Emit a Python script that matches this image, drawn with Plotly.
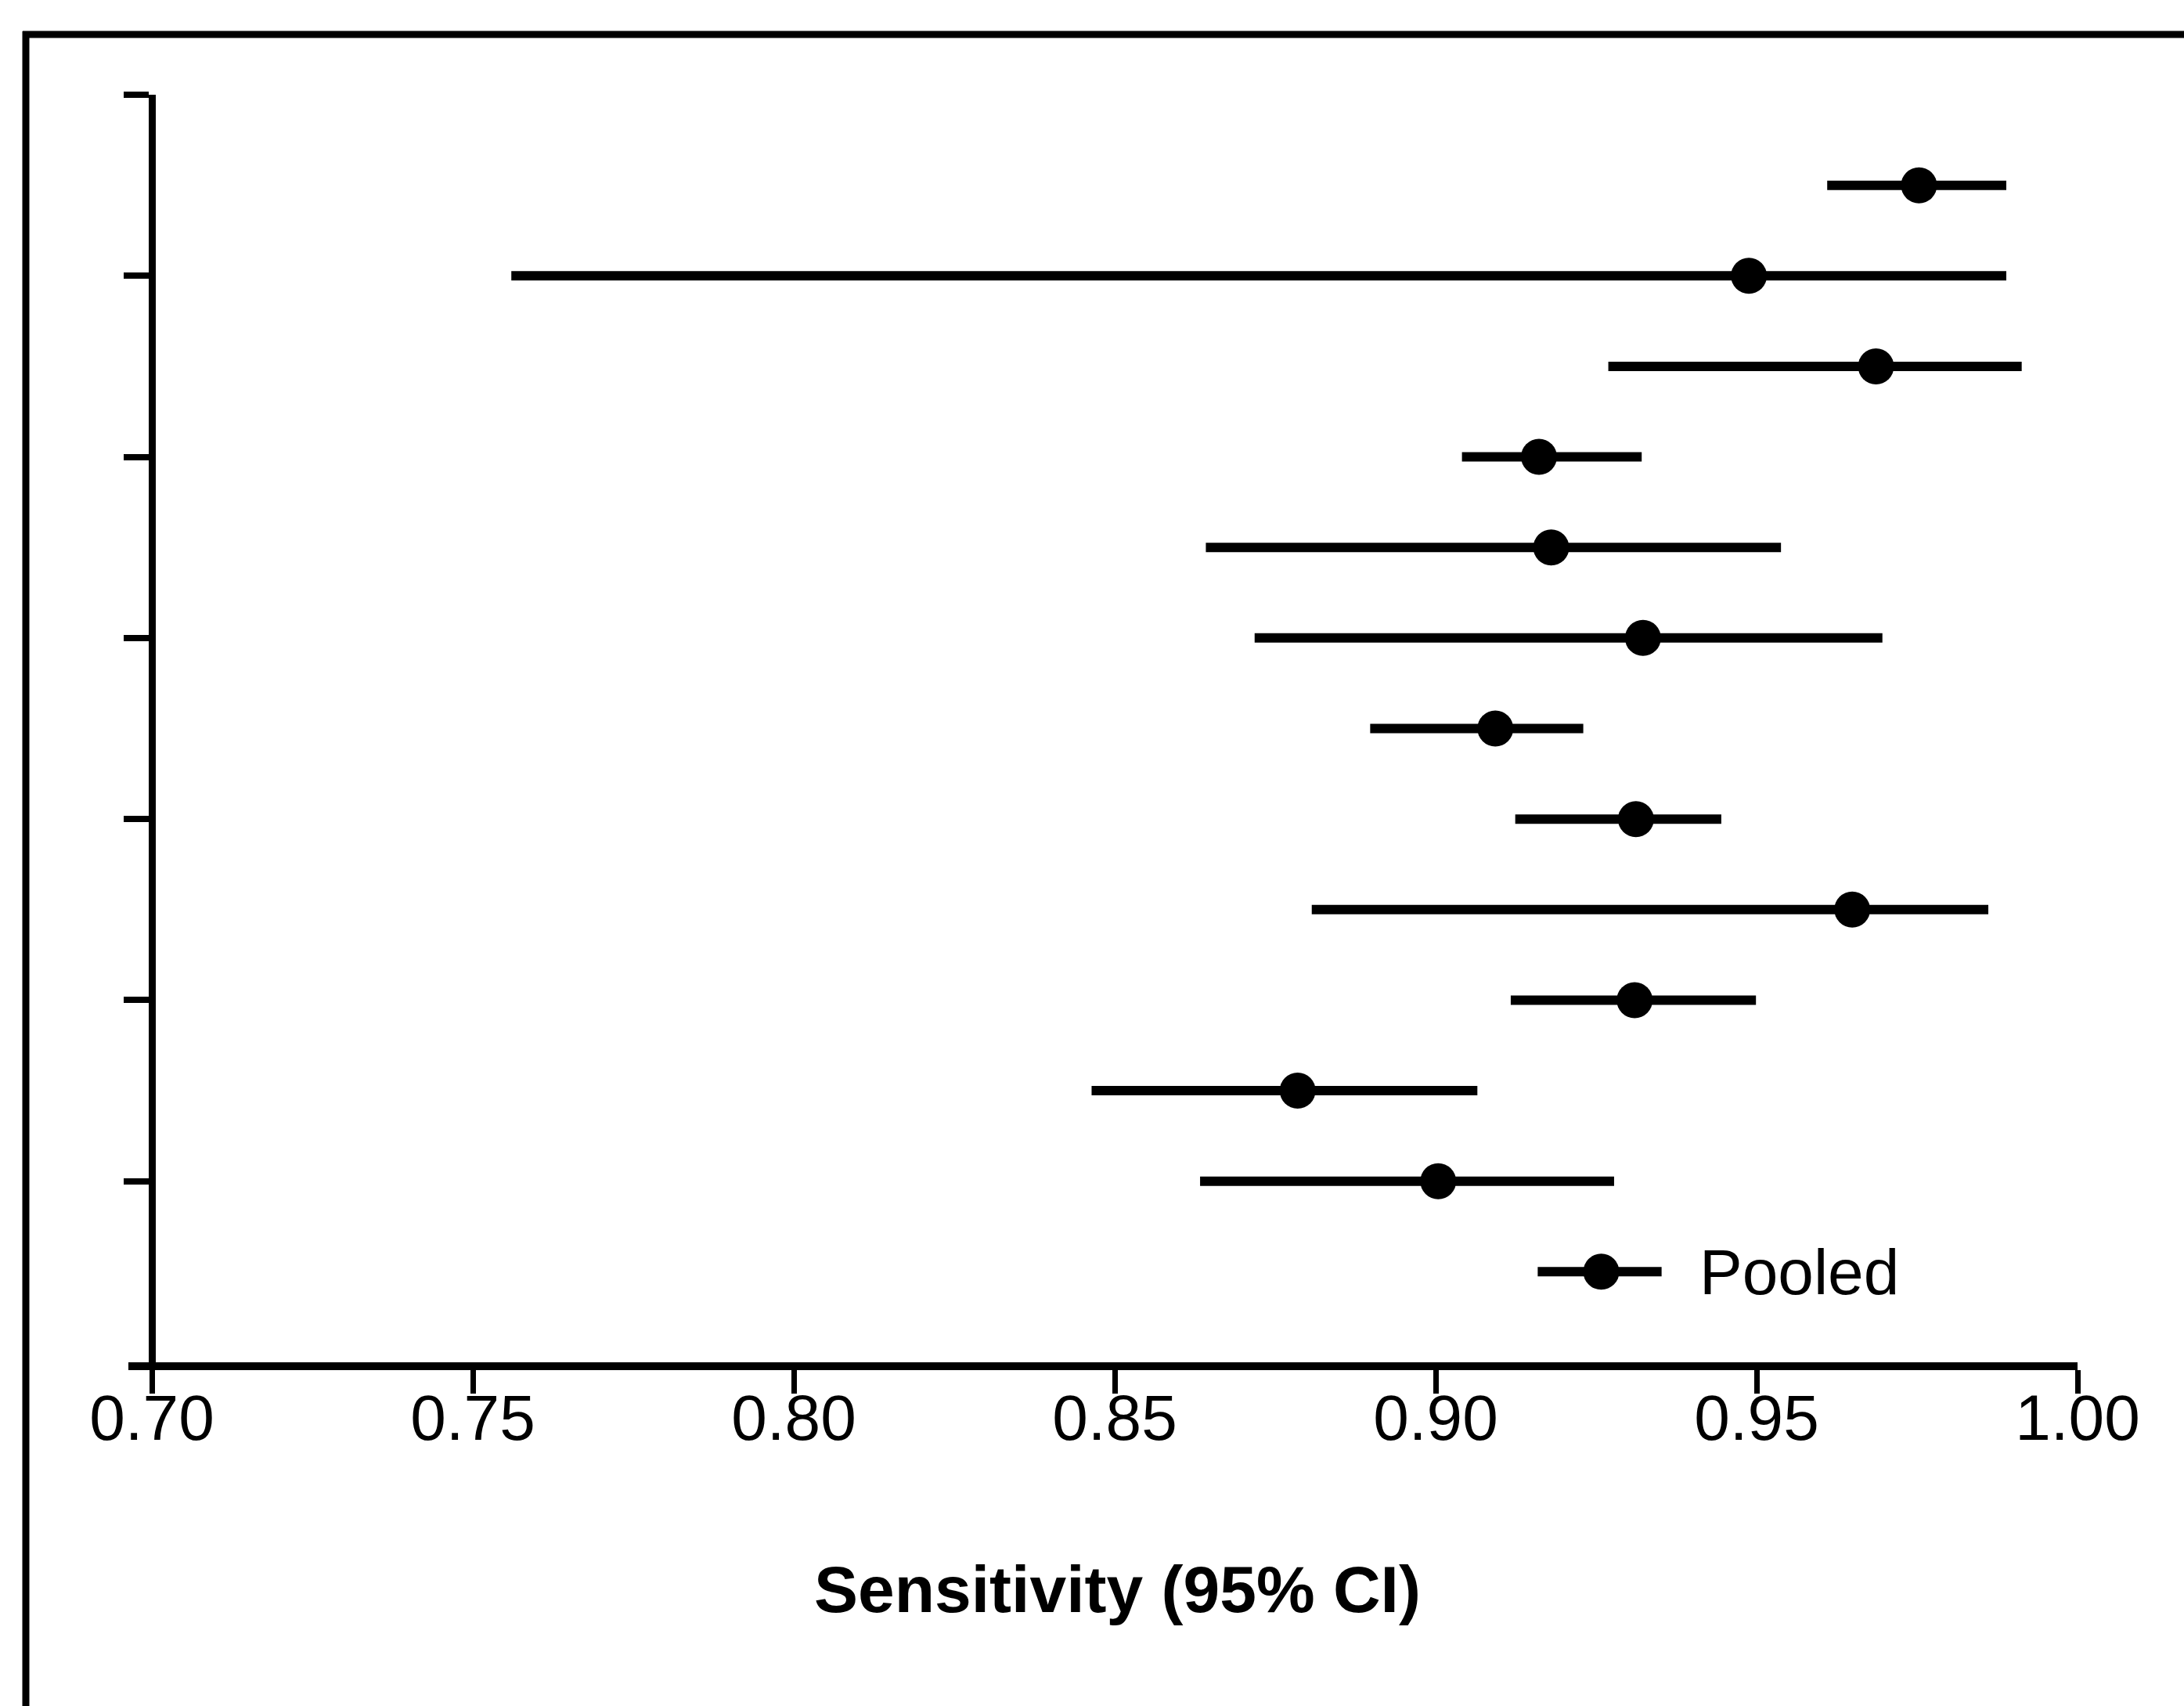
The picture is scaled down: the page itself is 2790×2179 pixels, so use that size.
import plotly.graph_objects as go

# Per-study sensitivity estimates with 95% confidence limits (top row first)
sens_point = [0.9753, 0.9488, 0.9686, 0.9161, 0.9180, 0.9323,
              0.9093, 0.9312, 0.9649, 0.9310, 0.8785, 0.9004]
ci_low = [0.9610, 0.7560, 0.9269, 0.9041, 0.8642, 0.8718,
          0.8898, 0.9124, 0.8807, 0.9117, 0.8464, 0.8633]
ci_high = [0.9889, 0.9889, 0.9913, 0.9321, 0.9538, 0.9696,
           0.9230, 0.9445, 0.9861, 0.9499, 0.9065, 0.9278]

# Pooled estimate
pooled_point = 0.9258
pooled_low = 0.9159
pooled_high = 0.9352
pooled_label = "Pooled"

x_ticks = [0.70, 0.75, 0.80, 0.85, 0.90, 0.95, 1.00]
x_tick_text = ["0.70", "0.75", "0.80", "0.85", "0.90", "0.95", "1.00"]
y_ticks = [2, 4, 6, 8, 10, 12, 14]
x_title = "Sensitivity (95% CI)"

W, H = 2790, 2179
FONT = "Liberation Sans, Arial, sans-serif"

n = len(sens_point)
rows = [n + 1 - i for i in range(n)]  # studies stacked from the top, pooled row at 1

all_x = sens_point + [pooled_point]
all_y = rows + [1]
err_plus = [h - p for h, p in zip(ci_high + [pooled_high], all_x)]
err_minus = [p - l for p, l in zip(all_x, ci_low + [pooled_low])]

fig = go.Figure()
fig.add_trace(go.Scatter(
    x=all_x, y=all_y, mode="markers",
    marker=dict(color="black", size=46, line=dict(width=0)),
    error_x=dict(type="data", symmetric=False, array=err_plus,
                 arrayminus=err_minus, width=0, thickness=12, color="black"),
    showlegend=False, hoverinfo="x",
))

# pixel geometry of the plotting frame
x_left_px, x_zero_px, x_right_px = 164, 194, 2654
y_top_px, y_bottom_px = 121, 1740
x_min = 0.70 - (x_zero_px - x_left_px) / ((x_right_px - x_zero_px) / 0.30)

fig.update_layout(
    width=W, height=H,
    margin=dict(l=0, r=0, t=0, b=0, pad=0, autoexpand=False),
    paper_bgcolor="white", plot_bgcolor="white",
    font=dict(family=FONT, color="black"),
    xaxis=dict(
        range=[x_min, 1.0],
        domain=[x_left_px / W, x_right_px / W],
        tickvals=x_ticks, ticktext=x_tick_text,
        ticks="outside", ticklen=30, tickwidth=7, tickcolor="black",
        showline=True, linecolor="black", linewidth=10,
        showgrid=False, zeroline=False, automargin=False,
        tickfont=dict(size=82, family=FONT, color="black"),
        ticklabelstandoff=-39,
        anchor="y",
    ),
    yaxis=dict(
        range=[0, 14],
        domain=[(H - y_bottom_px) / H, (H - y_top_px) / H],
        tickvals=y_ticks, showticklabels=False,
        ticks="outside", ticklen=32, tickwidth=8, tickcolor="black",
        showline=True, linecolor="black", linewidth=9,
        showgrid=False, zeroline=False, automargin=False,
        anchor="free", position=x_zero_px / W,
    ),
)

fig.add_annotation(
    x=0.9409, y=1, xref="x", yref="y", text=pooled_label,
    showarrow=False, xanchor="left", yanchor="middle",
    font=dict(size=82, family=FONT, color="black"),
)
fig.add_annotation(
    x=1427 / W, y=(H - 2030) / H, xref="paper", yref="paper", text=f"<b>{x_title}</b>",
    showarrow=False, xanchor="center", yanchor="middle",
    font=dict(size=84, family=FONT, color="black"),
)

# outer frame lines (top and left edges of the figure panel)
fig.add_shape(type="line", xref="paper", yref="paper",
              x0=29 / W, x1=1.0, y0=(H - 44) / H, y1=(H - 44) / H,
              line=dict(color="black", width=9))
fig.add_shape(type="line", xref="paper", yref="paper",
              x0=33 / W, x1=33 / W, y0=0, y1=(H - 40) / H,
              line=dict(color="black", width=9))

fig.write_html("out.html")
